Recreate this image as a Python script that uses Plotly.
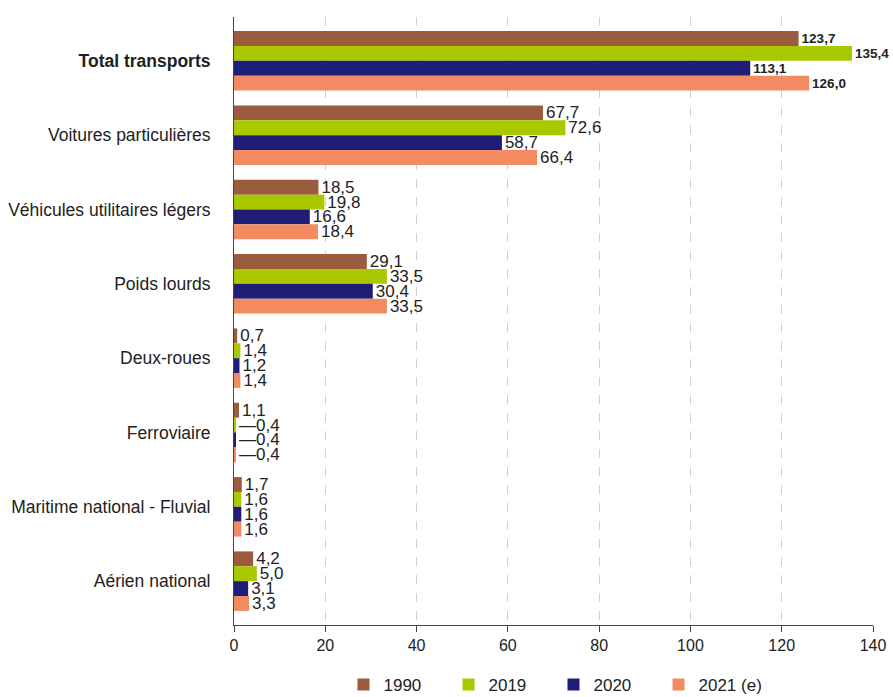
import plotly.graph_objects as go

categories = ["Total transports", "Voitures particulières", "Véhicules utilitaires légers",
              "Poids lourds", "Deux-roues", "Ferroviaire", "Maritime national - Fluvial",
              "Aérien national"]
series_names = ["1990", "2019", "2020", "2021 (e)"]
v1990 = [123.7, 67.7, 18.5, 29.1, 0.7, 1.1, 1.7, 4.2]
v2019 = [135.4, 72.6, 19.8, 33.5, 1.4, 0.4, 1.6, 5.0]
v2020 = [113.1, 58.7, 16.6, 30.4, 1.2, 0.4, 1.6, 3.1]
v2021 = [126.0, 66.4, 18.4, 33.5, 1.4, 0.4, 1.6, 3.3]
colors = ["#9A5B3E", "#A9C800", "#1E1E78", "#F28B62"]
x_ticks = [0, 20, 40, 60, 80, 100, 120, 140]

LBL = "Liberation Sans, Arial, sans-serif"
REG = "Liberation Sans, Arial, sans-serif"

tick_text = ["<b>" + categories[0] + "</b>"] + categories[1:]
label_sizes = [13.5] + [17] * (len(categories) - 1)

def fmt(vals):
    out = []
    for i, v in enumerate(vals):
        s = f"{v:.1f}".replace(".", ",")
        if v < 0.5:
            s = "\u2014" + s
        if i == 0:
            s = "<b>" + s + "</b>"
        out.append(s)
    return out

fig = go.Figure()
for name, vals, col in zip(series_names, [v1990, v2019, v2020, v2021], colors):
    fig.add_trace(go.Bar(
        y=categories, x=vals, name=name, orientation="h",
        marker=dict(color=col, line=dict(width=0)),
        text=fmt(vals), textposition="outside", cliponaxis=False,
        constraintext="none",
        textfont=dict(size=label_sizes, color="#222222", family=LBL),
    ))

n = len(categories)
fig.update_layout(
    width=893, height=697,
    margin=dict(l=234, r=20, t=17, b=72, autoexpand=False),
    barmode="group", bargap=0.2, bargroupgap=0,
    plot_bgcolor="white", paper_bgcolor="white",
    font=dict(family=REG, size=17, color="#222222"),
    legend=dict(orientation="h", x=0.5, xanchor="center", y=-0.0987, yanchor="middle",
                font=dict(size=17, family=REG), traceorder="normal",
                entrywidth=60, entrywidthmode="pixels"),
)
fig.update_xaxes(range=[0, 140], tickvals=x_ticks, showgrid=True, gridcolor="#d0d0d0",
                 griddash="dash", gridwidth=1, showline=True, linecolor="#444444",
                 linewidth=1, ticks="outside", ticklen=6, tickcolor="#444444",
                 zeroline=False, tickfont=dict(size=16, family=REG), automargin=False)
fig.update_yaxes(range=[n - 0.5 + 0.09, -0.5 - 0.09], tickvals=categories, ticktext=tick_text,
                 showline=True, linecolor="#444444", linewidth=1, ticks="",
                 ticklabelstandoff=19, tickfont=dict(size=17.5, family=REG),
                 automargin=False)

fig.write_html("out.html", config={"displayModeBar": False},
               post_script="document.body.style.margin='0px';document.body.style.overflow='hidden';")
